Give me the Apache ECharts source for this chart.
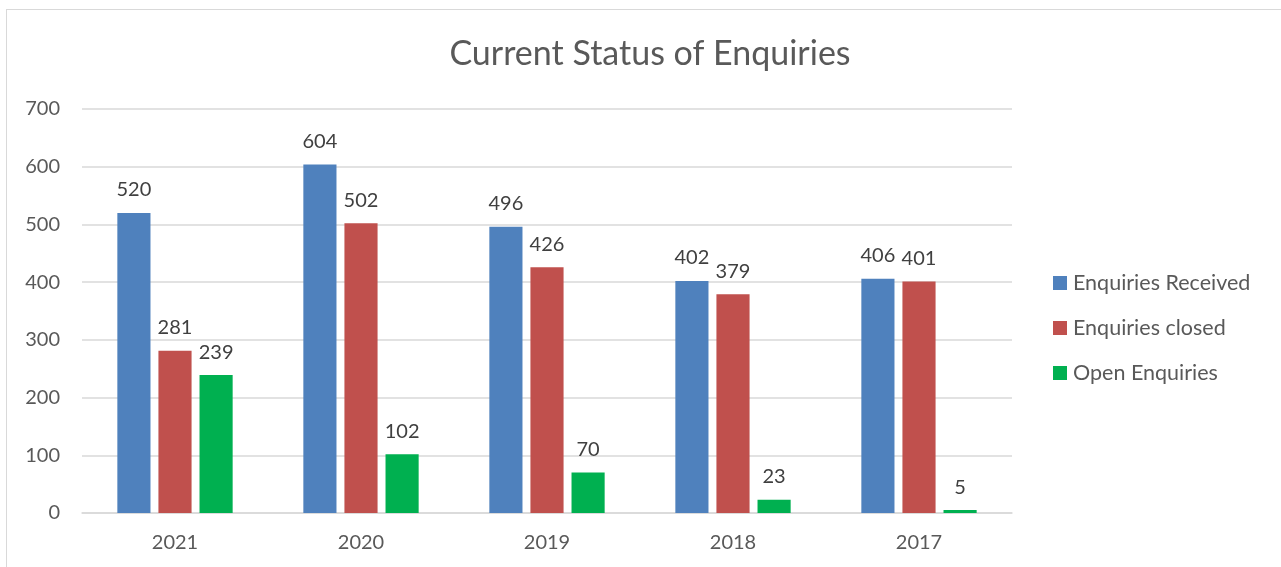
<!DOCTYPE html>
<html lang="en" style="height: 100%">
<head>
    <meta charset="utf-8">
    <style type="text/css">
        body { margin: 0; background: #fff; }
        .frame {
            position: absolute;
            left: 6px;
            top: 9px;
            width: 1300px;
            height: 600px;
            border: 1px solid #d9d9d9;
        }
    </style>
</head>
<body style="height: 100%; margin: 0">
    <div class="frame"></div>
    <div id="container" style="position: absolute; left: 0; top: 0; width: 1281px; height: 567px"></div>

    <script type="text/javascript" src="https://cdn.jsdelivr.net/npm/echarts@6/dist/echarts.min.js"></script>
    <script type="text/javascript">

        const years = ['2021', '2020', '2019', '2018', '2017'];
        const received = [520, 604, 496, 402, 406];
        const closed = [281, 502, 426, 379, 401];
        const open = [239, 102, 70, 23, 5];
        const seriesNames = ['Enquiries Received', 'Enquiries closed', 'Open Enquiries'];
        const colors = ['#4f81bd', '#c0504d', '#00b050'];

        const fontFamily = 'Lato, "Open Sans", sans-serif';

        let dom = document.getElementById('container');
        let myChart = echarts.init(dom, null, { renderer: 'canvas' });

        const makeSeries = (name, data, color) => ({
            name: name,
            type: 'bar',
            data: data,
            barGap: '24%',
            barCategoryGap: '38%',
            itemStyle: { color: color },
            label: {
                show: true,
                position: 'top',
                distance: 13,
                color: '#404040',
                fontSize: 20,
                fontFamily: fontFamily
            }
        });

        let option = {
            animation: false,
            title: {
                text: 'Current Status of Enquiries',
                left: 645,
                top: 32,
                textAlign: 'center',
                textStyle: {
                    fontSize: 34,
                    fontWeight: 'normal',
                    color: '#595959',
                    fontFamily: fontFamily
                }
            },
            legend: {
                orient: 'vertical',
                left: 1048,
                top: 267,
                itemWidth: 14,
                itemHeight: 14,
                itemGap: 23,
                icon: 'rect',
                data: seriesNames,
                textStyle: {
                    fontSize: 21.5,
                    color: '#595959',
                    fontFamily: fontFamily,
                    padding: [0, 0, 0, 1]
                }
            },
            grid: {
                left: 82,
                right: 269,
                top: 109,
                bottom: 54
            },
            xAxis: {
                type: 'category',
                data: years,
                axisTick: { show: false },
                axisLine: { lineStyle: { color: '#d9d9d9', width: 1.5 } },
                axisLabel: {
                    fontSize: 20,
                    color: '#595959',
                    margin: 20,
                    fontFamily: fontFamily
                }
            },
            yAxis: {
                type: 'value',
                min: 0,
                max: 700,
                interval: 100,
                axisLine: { show: false },
                axisTick: { show: false },
                splitLine: { lineStyle: { color: '#d9d9d9', width: 1.5 } },
                axisLabel: {
                    fontSize: 20,
                    color: '#595959',
                    margin: 22,
                    fontFamily: fontFamily
                }
            },
            series: [
                makeSeries(seriesNames[0], received, colors[0]),
                makeSeries(seriesNames[1], closed, colors[1]),
                makeSeries(seriesNames[2], open, colors[2])
            ]
        };

        myChart.setOption(option);

    </script>
</body>
</html>
